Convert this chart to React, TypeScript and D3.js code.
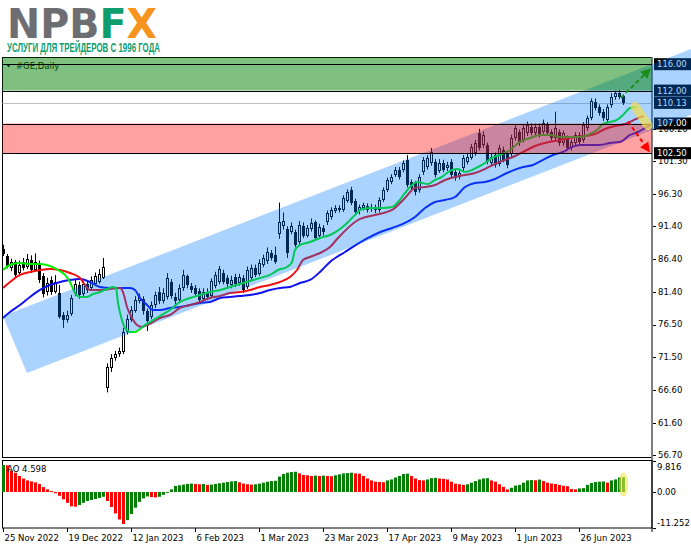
import React, { useEffect } from 'react';
import * as d3 from 'd3';

const W = 691;
const H = 549;

// ---- candle data (GE, Daily) ----
const opens = [87.9,86.9,85.0,86.0,84.3,86.0,85.2,86.3,84.8,85.8,
 83.8,81.4,83.2,81.5,81.3,77.9,77.2,78.1,81.2,82.5,
 81.1,82.7,82.0,82.6,83.0,83.6,66.9,69.9,71.4,72.0,
 72.3,75.3,77.2,78.6,80.1,80.3,78.5,77.6,79.4,81.5,
 80.1,80.7,82.9,80.7,80.2,82.0,83.8,82.4,82.0,81.6,
 80.4,81.5,80.8,82.3,83.0,84.3,83.5,82.5,83.7,82.8,
 83.5,82.2,83.5,85.1,84.2,85.6,86.1,87.3,87.1,90.2,
 91.5,91.0,90.6,90.5,89.0,91.4,90.0,91.0,92.0,89.9,
 91.2,92.0,92.8,93.8,94.2,93.9,95.3,96.9,95.2,93.7,
 94.2,94.5,94.0,94.3,93.9,95.4,96.9,98.2,99.2,99.9,
 99.9,101.4,98.1,98.0,96.9,99.6,100.4,101.0,101.2,99.8,
 101.0,100.2,101.2,99.6,98.9,100.2,101.2,101.8,102.5,105.6,
 103.7,103.7,101.0,102.2,100.9,103.0,102.3,102.4,104.8,105.7,
 104.5,105.5,106.5,105.6,106.5,105.7,106.8,105.7,104.8,105.7,
 104.0,104.8,103.3,104.0,105.3,104.5,106.3,107.9,110.3,109.5,
 108.8,107.5,109.8,111.0,111.6,111.1];
const highs = [88.6,87.2,86.5,86.3,86.2,86.6,87.2,87.0,87.3,86.2,
 84.3,83.6,83.8,84.0,82.5,78.4,78.6,81.0,83.3,83.0,
 83.1,83.2,83.8,84.4,84.9,86.6,70.6,72.0,72.5,73.0,
 76.0,78.0,79.3,80.8,81.2,80.8,78.9,80.0,81.5,82.2,
 82.0,84.3,83.4,81.3,82.6,84.8,84.1,82.8,82.5,82.0,
 82.0,82.0,83.5,84.5,85.4,84.8,84.0,83.9,84.2,84.2,
 84.0,85.3,85.6,85.6,86.4,87.1,88.2,87.8,88.3,95.0,
 93.5,91.4,92.0,90.9,92.2,92.0,91.6,92.6,92.3,91.8,
 91.6,93.8,94.3,94.6,94.6,96.1,97.0,97.4,95.6,94.7,
 95.0,94.9,94.8,94.7,95.8,97.3,98.8,99.3,100.4,100.4,
 101.4,102.2,98.5,98.3,99.3,101.9,102.2,103.3,101.6,101.6,
 101.5,101.2,101.6,100.0,99.9,102.2,102.4,103.9,104.5,106.2,
 105.8,104.1,102.4,102.6,103.8,103.5,102.8,105.3,106.8,106.1,
 106.8,107.3,107.0,107.0,107.0,107.6,107.2,106.1,108.8,106.1,
 105.9,105.2,104.6,105.7,105.7,107.2,108.2,110.8,110.8,109.9,
 109.2,109.9,111.6,112.0,112.1,111.4];
const lows = [86.9,85.0,84.6,83.6,84.0,84.7,84.9,84.3,84.5,82.8,
 80.6,80.9,81.0,81.2,77.4,76.0,76.8,77.8,80.8,80.4,
 80.8,81.3,81.7,82.3,82.7,83.4,66.2,69.3,71.0,71.6,
 72.0,75.0,76.9,78.3,79.7,78.0,75.5,77.3,79.0,79.6,
 79.7,80.3,80.4,79.5,79.8,81.6,82.0,81.3,80.8,79.6,
 80.0,80.2,80.5,82.0,82.6,82.6,82.2,82.0,82.2,82.4,
 81.3,81.9,83.1,83.7,83.9,85.2,85.7,86.2,85.7,89.5,
 90.9,86.6,90.2,88.2,88.6,89.6,89.7,90.6,89.2,89.5,
 90.0,91.6,92.4,93.4,93.5,93.6,95.0,94.6,93.2,93.2,
 93.8,93.5,93.6,93.4,93.5,95.1,96.6,97.8,98.9,98.5,
 99.6,97.3,96.8,96.1,96.5,99.2,100.0,100.6,98.8,99.5,
 99.6,99.8,98.8,98.3,98.5,99.8,100.8,101.5,102.1,102.9,
 103.3,100.8,100.6,100.3,100.5,101.1,100.2,102.0,104.4,103.6,
 104.1,105.1,105.2,105.2,104.9,105.3,105.2,104.4,104.4,103.6,
 103.6,102.9,102.9,103.6,103.8,104.1,105.9,107.5,109.0,108.2,
 107.4,107.1,109.4,110.6,110.7,109.8];
const closes = [87.2,85.4,86.0,84.0,85.6,85.0,86.5,84.8,86.0,83.3,
 81.2,82.8,81.4,82.9,77.6,77.2,78.0,80.5,82.7,81.0,
 82.6,81.8,83.3,83.8,84.1,85.2,70.1,71.4,72.1,72.5,
 75.4,77.3,78.7,80.2,80.6,78.5,77.1,79.5,81.0,80.0,
 81.3,83.6,80.8,80.0,82.0,84.0,82.5,81.8,81.2,80.2,
 81.5,80.6,83.1,84.0,84.9,83.0,82.6,83.3,82.6,83.7,
 81.8,84.8,85.1,84.0,85.8,86.6,87.5,86.6,86.0,92.0,
 92.2,87.3,91.4,88.6,91.6,90.0,91.1,91.9,89.6,91.3,
 90.5,93.4,93.9,94.2,93.9,95.7,96.6,94.9,93.6,94.3,
 94.6,93.9,94.4,93.9,95.4,96.9,98.4,98.9,99.95,98.9,
 101.0,97.7,97.2,96.6,98.9,101.5,101.8,102.7,99.2,101.0,
 100.0,100.7,99.2,98.7,99.5,101.8,101.9,103.4,104.0,103.3,
 105.3,101.2,101.9,100.7,103.3,101.5,100.7,104.8,106.3,104.0,
 106.3,106.8,105.6,106.5,105.3,107.1,105.6,104.8,106.3,104.0,
 105.5,103.3,104.2,105.3,104.2,106.8,107.8,110.4,109.4,108.6,
 107.8,109.5,111.0,111.6,111.0,110.13];

// ---- Alligator lines (bar position, price) ----
const lipsBars = [0,1.75,4.25,6.75,9.25,11.75,13.75,15.5,16.75,18,19.25,21,22.5,24.25,26,27.5,28.25,28.75,29.75,30.5,31.75,33,34.25,35.5,36.75,38,39.25,41.75,44.25,46.75,49.25,51.75,54.25,56.75,59.25,61.75,64.25,66.75,68.75,71,72.25,73,74.25,76.75,79.25,81.75,85.5,88,89.75,92.25,94.75,97.25,98.75,100.5,102.25,103.5,104.75,106.25,108,109.75,111,112.25,113.75,115.5,117.25,118.75,120.5,122.25,124.25,126.75,129.25,131.75,134.25,136.75,139.25,141.75,144.25,146.75,148.5,150,151.75,153.5,155,156.75,158.25];
const lipsPrices = [84.77,85.53,85.84,85.68,85.68,85.38,84.77,84.02,82.95,81.28,80.68,80.68,81.13,81.43,81.89,82.19,82.04,79.77,77.19,75.97,75.36,75.36,75.82,76.43,76.88,77.34,77.79,78.70,79.92,80.52,80.98,81.43,81.74,82.19,82.65,83.10,83.56,84.02,84.77,85.23,85.99,87.81,88.57,89.02,89.63,90.08,91.60,93.12,94.03,94.18,94.18,94.33,95.09,96.46,97.67,98.13,97.98,97.82,98.43,98.89,99.49,99.95,100.10,99.64,99.95,100.40,101.01,101.77,102.23,102.98,104.20,104.80,105.26,105.26,104.96,104.96,104.96,105.41,106.02,106.93,107.23,107.54,108.30,109.36,109.51];
const teethBars = [0,1.75,4.25,6.75,9.25,11.75,14.25,16.75,19.25,20.5,21.75,24.25,26.75,29.25,30,31,32.25,33.5,34.75,36,37.5,39.25,41.75,44.25,46.75,49.25,51.75,54.25,56.75,59.25,61.75,64.25,66.75,69.25,71.75,73.5,75,76.75,79.25,81.75,83.75,88.75,93,97.25,100.5,103,105.5,108,110.5,113,115.5,118,120.5,123,125.5,128,130.5,133,135.5,138,140.5,143,145.5,148,150.5,153,155.5,157.25,158.75,160.25];
const teethPrices = [82.04,82.95,84.02,84.47,84.77,84.93,84.77,84.32,83.56,82.50,81.74,81.74,81.89,82.04,81.43,79.16,77.49,76.43,76.12,76.43,76.88,77.49,77.95,79.01,79.46,79.92,80.52,80.83,81.28,81.43,81.74,82.19,82.50,82.95,83.71,84.77,86.29,86.75,87.35,88.26,89.63,92.36,93.12,93.88,95.70,97.22,97.37,97.67,98.43,98.89,99.19,99.49,100.10,100.86,101.47,102.07,102.83,103.59,104.05,104.35,104.65,104.96,105.11,105.41,106.17,106.63,106.93,107.38,107.84,108.14];
const jawBars = [0,1.75,4.25,6.75,9.25,11.75,14.25,16.75,19.25,21.75,24.25,26.75,29.25,31.75,33,34.25,36,37.5,39.25,41.75,44.25,46.75,49.25,51.75,54.25,56.75,59.25,61.75,64.25,66.75,69.25,71.75,74.25,76.75,79.25,81.75,85.5,91.25,93.75,97.25,100.5,103,105.5,108,110.5,113,115.5,118,120.5,123,126,130,132.5,135,137.5,140,141.75,144.25,146.75,149.25,151.75,154.25,156.75,158.75,161,163];
const jawPrices = [77.49,78.40,79.46,80.68,81.74,82.50,82.95,83.26,83.41,82.95,82.19,82.04,82.04,82.04,81.74,80.52,79.46,78.70,78.70,79.01,79.16,79.46,79.77,79.92,80.52,80.68,80.83,80.98,81.28,81.74,82.04,82.19,82.80,83.26,84.47,85.99,87.50,89.63,90.39,91.15,91.91,92.82,94.18,95.09,95.40,95.85,97.37,97.98,98.13,98.58,99.49,100.40,100.71,101.47,102.23,102.68,103.29,103.74,103.74,103.74,104.05,104.20,105.26,105.71,106.47,106.93];

// ---- Awesome Oscillator ----
const aoValues = [8.4,8.3,6.7,6.0,5.0,4.2,3.6,3.3,3.0,2.5,
 1.5,0.8,0.3,-0.4,-1.2,-2.3,-3.4,-4.5,-4.6,-4.1,
 -3.4,-2.8,-2.5,-2.2,-1.9,-1.5,-2.8,-4.7,-6.7,-8.6,
 -10.0,-8.8,-6.9,-4.9,-3.1,-2.0,-1.4,-1.6,-1.7,-1.5,
 -0.9,-0.3,0.8,1.9,2.1,2.3,2.5,2.6,2.5,2.4,
 2.5,2.2,2.3,2.5,2.7,2.9,3.1,3.3,3.4,3.0,
 2.6,2.4,2.3,2.4,2.6,2.9,3.2,3.4,3.5,4.8,
 5.6,6.0,6.2,6.3,5.8,5.3,5.2,5.0,5.1,5.0,
 5.1,5.0,4.9,5.2,5.5,5.8,5.9,6.0,5.8,5.7,
 5.0,4.2,3.6,3.2,3.1,3.05,3.6,3.9,4.5,5.0,
 5.6,5.7,5.0,4.2,3.7,3.6,3.9,4.3,4.4,4.2,
 4.1,3.9,3.2,2.6,2.4,2.2,2.4,2.9,3.4,3.9,
 4.2,4.3,3.6,3.2,2.4,1.6,0.8,1.3,2.0,2.2,
 2.9,3.6,3.7,3.65,3.85,3.4,2.9,2.6,2.5,2.2,
 1.9,1.8,0.9,0.8,1.1,1.2,2.2,2.8,3.1,3.2,
 3.25,2.9,3.6,3.9,4.5,4.598];
const aoLabelValues = [9.816, 0.0, -11.252];

// ---- axes / labels ----
const priceTicks = [56.7, 61.6, 66.6, 71.5, 76.5, 81.4, 86.4, 91.4, 96.3, 101.3, 106.2];
const levelPrices = [116.0, 112.0, 107.0, 102.5];
const bidPrice = 110.13;
const dateLabels = ['25 Nov 2022', '19 Dec 2022', '12 Jan 2023', '6 Feb 2023', '1 Mar 2023', '23 Mar 2023', '17 Apr 2023', '9 May 2023', '1 Jun 2023', '26 Jun 2023'];
const dateLabelBars = [0, 16, 32, 48, 64, 80, 96, 112, 128, 144];

// ---- drawn objects (bar, price) ----
const channelUpper = [[0, 77.79], [172, 118.31]];
const channelLower = [[6, 69.14], [172, 108.3]];
const greenZoneLow = 112.0;
const redZone = [102.5, 107.0];
const upArrow = [[154.5, 110.9], [162, 115.4]];
const downArrow = [[156.25, 107.3], [161.75, 102.6]];
const highlight = [[158, 109.6], [161.25, 106.7]];

const FONT = 'DejaVu Sans, Verdana, sans-serif';

function arrowHead(sx: number, sy: number, ex: number, ey: number, len: number, half: number) {
  const a = Math.atan2(ey - sy, ex - sx);
  const bx = ex - len * Math.cos(a);
  const by = ey - len * Math.sin(a);
  const px = -Math.sin(a) * half;
  const py = Math.cos(a) * half;
  return `M${ex},${ey} L${bx + px},${by + py} L${bx - px},${by - py} Z`;
}

export default function App() {
  useEffect(() => {
    document.body.style.margin = '0';
  }, []);

  const plotL = 2.5, plotR = 652, plotT = 57.5, plotB = 457.5;
  const aoT = 460.5, aoB = 528;

  const x = d3.scaleLinear().domain([0, 172]).range([3, 691]);
  const y = d3.scaleLinear().domain([56.7, 116.0]).range([455, 64.2]);
  const yAO = d3.scaleLinear().domain([-11.252, 9.816]).range([aoB, aoT]);

  const mkLine = (bars: number[]) =>
    d3.line<number>().x((_, k) => x(bars[k])).y((v) => y(v)).curve(d3.curveMonotoneX);

  const lipsPath = mkLine(lipsBars)(lipsPrices) || '';
  const teethPath = mkLine(teethBars)(teethPrices) || '';
  const jawPath = mkLine(jawBars)(jawPrices) || '';

  const chanPts = [
    [x(channelUpper[0][0]), y(channelUpper[0][1])],
    [x(channelUpper[1][0]), y(channelUpper[1][1])],
    [x(channelLower[1][0]), y(channelLower[1][1])],
    [x(channelLower[0][0]), y(channelLower[0][1])],
  ];
  const chanPath = 'M' + chanPts.map((p) => p.join(',')).join('L') + 'Z';

  const ua = upArrow.map(([b, p]) => [x(b), y(p)]);
  const da = downArrow.map(([b, p]) => [x(b), y(p)]);
  const hl = highlight.map(([b, p]) => [x(b), y(p)]);

  const shorten = (s: number[], e: number[], d: number) => {
    const a = Math.atan2(e[1] - s[1], e[0] - s[0]);
    return [e[0] - d * Math.cos(a), e[1] - d * Math.sin(a)];
  };
  const uaEnd = shorten(ua[0], ua[1], 6);
  const daEnd = shorten(da[0], da[1], 6);

  return (
    <svg width={W} height={H} style={{ position: 'absolute', left: 0, top: 0, display: 'block' }} xmlns="http://www.w3.org/2000/svg">
      <defs>
        <clipPath id="plotClip">
          <rect x={plotL} y={plotT} width={plotR - plotL} height={plotB - plotT} />
        </clipPath>
        <linearGradient id="xGrad" x1="0" y1="1" x2="1" y2="0">
          <stop offset="0" stopColor="#0f9d6e" />
          <stop offset="0.42" stopColor="#0f9d6e" />
          <stop offset="0.42" stopColor="#f7941d" />
          <stop offset="1" stopColor="#f7941d" />
        </linearGradient>
      </defs>
      <rect x={0} y={0} width={W} height={H} fill="#fff" />

      {/* logo */}
      <text x={7} y={38} fontFamily={FONT} fontWeight="bold" fontSize={41} textLength={150} lengthAdjust="spacingAndGlyphs">
        <tspan fill="#6d6e71">NPB</tspan>
        <tspan fill="#0f9d6e">F</tspan>
        <tspan fill="#f7941d">X</tspan>
      </text>
      <text x={7} y={51.5} fontSize={12} fontWeight="bold" fill="#0f9d6e" fontFamily="Liberation Sans Narrow, Liberation Sans, Arial, sans-serif" textLength={153} lengthAdjust="spacingAndGlyphs">УСЛУГИ ДЛЯ ТРЕЙДЕРОВ С 1996 ГОДА</text>

      {/* main panel frame */}
      <rect x={plotL} y={plotT} width={plotR - plotL} height={plotB - plotT} fill="none" stroke="#000" strokeWidth={1} />

      {/* bid line */}
      <line x1={plotL} x2={plotR} y1={Math.round(y(bidPrice)) + 0.5} y2={Math.round(y(bidPrice)) + 0.5} stroke="#c0c0c0" strokeWidth={1} />

      {/* symbol label */}
      <path d="M6,64 L11,64 L8.5,67.5 Z" fill="#000" />
      <text x={16} y={69} fontSize={8.5} fontFamily={FONT} fill="#000">#GE,Daily</text>

      {/* candles */}
      <g clipPath="url(#plotClip)">
        {opens.map((o, i) => {
          const c = closes[i];
          const xc = Math.round(x(i));
          const yO = y(o), yC = y(c);
          const top = Math.round(Math.min(yO, yC));
          const bot = Math.round(Math.max(yO, yC));
          const h = Math.max(bot - top, 1);
          const bull = c >= o;
          return (
            <g key={i}>
              <line x1={xc + 0.5} x2={xc + 0.5} y1={y(highs[i])} y2={y(lows[i])} stroke="#000" strokeWidth={1} />
              {bull ? (
                <rect x={xc - 0.5} y={top + 0.5} width={2} height={Math.max(h - 1, 0.5)} fill="#fff" stroke="#000" strokeWidth={1} />
              ) : (
                <rect x={xc - 1} y={top} width={3} height={h} fill="#000" />
              )}
            </g>
          );
        })}
        <path d={jawPath} fill="none" stroke="#1010f0" strokeWidth={2} />
        <path d={teethPath} fill="none" stroke="#f01010" strokeWidth={2} />
        <path d={lipsPath} fill="none" stroke="#00f000" strokeWidth={2} />
      </g>

      {/* price axis */}
      <line x1={652} x2={652} y1={57} y2={532} stroke="#808080" strokeWidth={2} />
      {priceTicks.map((p, i) => (
        <g key={i}>
          <line x1={653} x2={656} y1={Math.round(y(p)) + 0.5} y2={Math.round(y(p)) + 0.5} stroke="#000" />
          <text x={658} y={y(p)} dy="0.35em" fontSize={8.5} fontFamily={FONT} fill="#000">{p.toFixed(2)}</text>
        </g>
      ))}
      {[...levelPrices, bidPrice].map((p, i) => (
        <g key={'lb' + i}>
          <rect x={654} y={y(p) - 6} width={37} height={12} fill="#000" />
          <text x={657} y={y(p)} dy="0.35em" fontSize={8.5} fontFamily={FONT} fill="#fff">{p.toFixed(2)}</text>
        </g>
      ))}

      {/* translucent overlays */}
      <path d={chanPath} fill="rgba(0,120,255,0.33)" />
      <rect x={plotL} y={y(redZone[1])} width={plotR - plotL} height={y(redZone[0]) - y(redZone[1])} fill="rgba(255,0,0,0.37)" />
      <rect x={plotL} y={plotT} width={plotR - plotL} height={y(greenZoneLow) - plotT} fill="rgba(0,128,0,0.5)" />

      {/* level lines */}
      {levelPrices.map((p, i) => (
        <line key={'lv' + i} x1={plotL} x2={plotR} y1={Math.round(y(p)) + 0.5} y2={Math.round(y(p)) + 0.5} stroke="#000" strokeWidth={1} />
      ))}

      {/* highlight and arrows */}
      <line x1={hl[0][0]} y1={hl[0][1]} x2={hl[1][0]} y2={hl[1][1]} stroke="rgba(240,222,80,0.72)" strokeWidth={9} strokeLinecap="round" />
      <line x1={ua[0][0]} y1={ua[0][1]} x2={uaEnd[0]} y2={uaEnd[1]} stroke="#1a8c1a" strokeWidth={2} strokeDasharray="4,3" />
      <path d={arrowHead(ua[0][0], ua[0][1], ua[1][0], ua[1][1], 10, 5)} fill="#1a8c1a" />
      <line x1={da[0][0]} y1={da[0][1]} x2={daEnd[0]} y2={daEnd[1]} stroke="#ff0000" strokeWidth={2} strokeDasharray="4,3" />
      <path d={arrowHead(da[0][0], da[0][1], da[1][0], da[1][1], 10, 5)} fill="#ff0000" />

      {/* AO panel */}
      <rect x={plotL} y={aoT} width={plotR - plotL} height={aoB - aoT} fill="none" stroke="#000" strokeWidth={1} />
      {aoValues.map((v, i) => {
        const xc = Math.round(x(i));
        const up = i === 0 ? true : v >= aoValues[i - 1];
        const y0 = yAO(0), y1 = yAO(v);
        return (
          <rect key={'ao' + i} x={xc - 1} y={Math.min(y0, y1)} width={3} height={Math.max(Math.abs(y1 - y0), 0.5)} fill={up ? '#008000' : '#ff0000'} />
        );
      })}
      <ellipse cx={x(155) + 0.5} cy={yAO(2.3)} rx={4.8} ry={12} fill="rgba(240,228,80,0.6)" />
      <text x={7} y={472} fontSize={8.5} fontFamily={FONT} fill="#000">AO 4.598</text>
      {aoLabelValues.map((v, i) => (
        <g key={'aol' + i}>
          <line x1={653} x2={656} y1={Math.round(yAO(v)) + 0.5} y2={Math.round(yAO(v)) + 0.5} stroke="#000" />
          <text x={657} y={i === 0 ? yAO(v) + 7 : i === 2 ? yAO(v) - 5 : yAO(v)} dy="0.35em" fontSize={8.5} fontFamily={FONT} fill="#000">
            {v === 0 ? '0.00' : v.toFixed(3)}
          </text>
        </g>
      ))}

      {/* time axis */}
      {dateLabels.map((d, i) => {
        const xt = Math.round(x(dateLabelBars[i])) + 0.5;
        return (
          <g key={'dl' + i}>
            <line x1={xt} x2={xt} y1={aoB} y2={aoB + 4} stroke="#000" />
            <text x={xt + 1} y={541} fontSize={8.5} fontFamily={FONT} fill="#000">{d}</text>
          </g>
        );
      })}
    </svg>
  );
}
